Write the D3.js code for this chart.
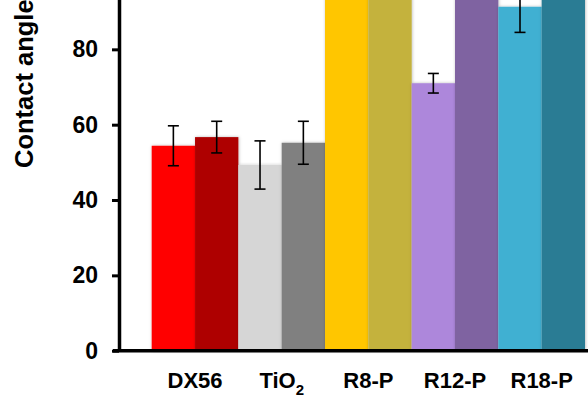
<!DOCTYPE html>
<html>
<head>
<meta charset="utf-8">
<script src="https://cdn.jsdelivr.net/npm/d3@7"></script>
<style>
  html, body { margin: 0; padding: 0; background: #fff; }
  svg { display: block; font-family: Arial, "Liberation Sans", sans-serif; }
</style>
</head>
<body>
<svg id="chart" width="588" height="401"></svg>
<script>
// Surface samples on the x axis
const categories = ["DX56", "TiO2", "R8-P", "R12-P", "R18-P"];
// Contact angle (°) for the two measurements of each sample
const firstValues  = [54.4, 49.3, 108.0, 71.0, 91.3];
const firstErrors  = [5.3, 6.4, 3.0, 2.6, 6.8];
const secondValues = [56.7, 55.2, 112.0, 105.0, 118.0];
const secondErrors = [4.2, 5.7, 3.0, 3.0, 3.0];
// Fill colours, one pair per sample
const firstColors  = ["#ff0000", "#d6d6d6", "#ffc600", "#ad87db", "#3fb0d2"];
const secondColors = ["#ae0000", "#808080", "#c4b23e", "#7f63a1", "#2c7c94"];
const yTicks = [0, 20, 40, 60, 80];

const svg = d3.select("#chart");

const defs = svg.append("defs");
const shadow = defs.append("filter").attr("id", "soft")
  .attr("x", "-10%").attr("y", "-10%").attr("width", "120%").attr("height", "120%");
shadow.append("feDropShadow")
  .attr("dx", 0.5).attr("dy", 0).attr("stdDeviation", 1.6)
  .attr("flood-color", "#000").attr("flood-opacity", 0.28);

const axisX = 119, baseY = 350.7;

const y = d3.scaleLinear().domain([0, 120]).range([baseY, baseY - 120 * 3.767]);
const x0 = d3.scaleBand().domain(categories).range([151.7, 585]).padding(0);
const x1 = d3.scaleBand().domain(["first", "second"]).range([0, x0.bandwidth()]).padding(0);

const rows = categories.map((c, i) => ({
  cat: c,
  bars: [
    { key: "first", value: firstValues[i], err: firstErrors[i], color: firstColors[i] },
    { key: "second", value: secondValues[i], err: secondErrors[i], color: secondColors[i] }
  ]
}));

// Bars
const groups = svg.append("g").selectAll("g").data(rows).join("g")
  .attr("transform", d => `translate(${x0(d.cat)},0)`);

groups.selectAll("rect").data(d => d.bars).join("rect")
  .attr("x", d => x1(d.key))
  .attr("y", d => y(d.value))
  .attr("width", x1.bandwidth())
  .attr("height", d => y(0) - y(d.value))
  .attr("fill", d => d.color)
  .attr("filter", "url(#soft)");

// Error bars
const capHalf = 5.5;
const eb = groups.selectAll("g.err").data(d => d.bars).join("g").attr("class", "err")
  .attr("transform", d => `translate(${x1(d.key) + x1.bandwidth() / 2},0)`)
  .attr("stroke", "#000").attr("stroke-width", 1.6);
eb.append("line").attr("x1", 0).attr("x2", 0)
  .attr("y1", d => y(d.value + d.err)).attr("y2", d => y(d.value - d.err));
eb.append("line").attr("x1", -capHalf).attr("x2", capHalf)
  .attr("y1", d => y(d.value + d.err)).attr("y2", d => y(d.value + d.err));
eb.append("line").attr("x1", -capHalf).attr("x2", capHalf)
  .attr("y1", d => y(d.value - d.err)).attr("y2", d => y(d.value - d.err));

// Y axis
const yAxis = d3.axisLeft(y).tickValues(yTicks).tickSize(7).tickPadding(14).tickSizeOuter(0);
const gy = svg.append("g").attr("transform", `translate(${axisX},0)`).call(yAxis);
gy.select(".domain").attr("stroke", "#000").attr("stroke-width", 3.5);
gy.selectAll(".tick line").attr("stroke", "#000").attr("stroke-width", 3);
gy.selectAll(".tick text")
  .attr("font-size", 23).attr("font-weight", "bold").attr("fill", "#000")
  .attr("font-family", "Arial, 'Liberation Sans', sans-serif");

// X axis baseline
const xAxis = d3.axisBottom(x0).tickSize(0).tickPadding(0).tickSizeOuter(0).tickFormat("");
const gx = svg.append("g").attr("transform", `translate(0,${baseY})`).call(xAxis);
gx.select(".domain").attr("d", `M${axisX - 6},0H600`).attr("stroke", "#000").attr("stroke-width", 3.5);

// Category labels (TiO2 gets a subscript)
gx.selectAll(".tick text").remove();
gx.selectAll(".tick").append("text")
  .attr("y", 37.5)
  .attr("text-anchor", "middle")
  .attr("font-size", 22).attr("font-weight", "bold").attr("fill", "#000")
  .each(function(d) {
    const t = d3.select(this);
    if (d === "TiO2") {
      t.append("tspan").text("TiO");
      t.append("tspan").attr("dy", 7).attr("font-size", 15).text("2");
    } else {
      t.text(d);
    }
  });

// Y axis title
svg.append("text")
  .attr("transform", `translate(33,168) rotate(-90)`)
  .attr("text-anchor", "start")
  .attr("font-size", 25.5).attr("font-weight", "bold").attr("fill", "#000")
  .text("Contact angle (°)");
</script>
</body>
</html>
